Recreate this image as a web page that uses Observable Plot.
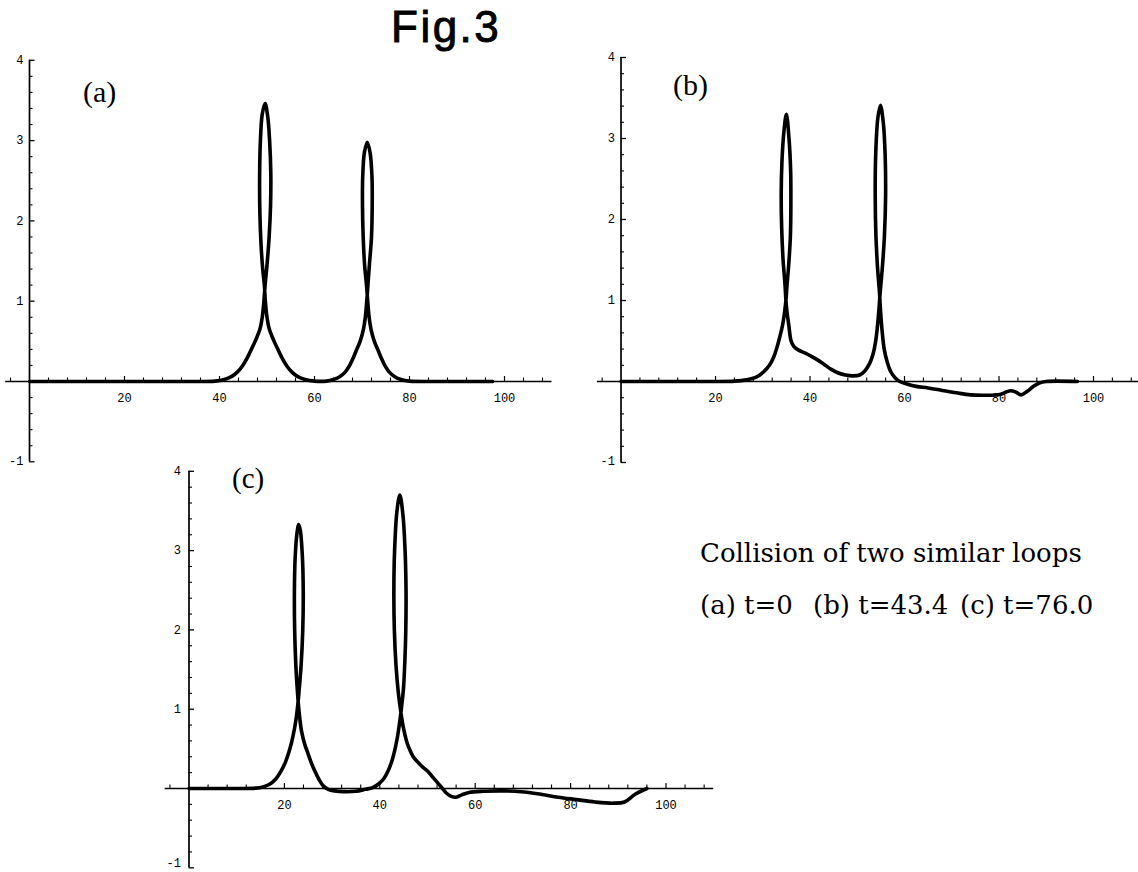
<!DOCTYPE html>
<html>
<head>
<meta charset="utf-8">
<script src="https://cdn.jsdelivr.net/npm/d3@7"></script>
<script src="https://cdn.jsdelivr.net/npm/@observablehq/plot@0.6"></script>
<style>
html, body { margin: 0; padding: 0; background: #fff; }
#page { position: relative; width: 1138px; height: 872px; overflow: hidden; background: #fff; }
#page > svg, #page > .panel { position: absolute; }
</style>
</head>
<body>
<div id="page"></div>
<script>
// ---------- text ----------
const titleText = "Fig.3";
const panelLabels = ["(a)", "(b)", "(c)"];
const captionLine1 = "Collision of two similar loops";
const captionLine2 = ["(a) t=0", "(b) t=43.4", "(c) t=76.0"];

// ---------- axes ----------
const xDomain = [-5, 110];
const yDomain = [-1, 4];
const xTickLabels = [20, 40, 60, 80, 100];
const yTickLabels = [-1, 1, 2, 3, 4];

// ---------- curve (a), t = 0 ----------
const aX = [0, 10, 20, 30, 36, 39, 41, 42.5, 43.8, 44.9, 45.9, 46.7, 47.5, 48.5, 49.0,
  49.35, 49.6, 50.0, 50.45, 50.75, 50.8, 50.55, 50.15, 49.6, 49.0, 48.65, 48.45, 48.5, 48.75, 49.1, 49.45,
  49.65, 50.0, 50.5, 51.5, 52.3, 53.1, 54.1, 55.2, 56.5, 58, 60, 62.5,
  64, 65.3, 66.5, 67.4, 68.2, 68.9, 69.6, 70.3, 70.7, 71.0, 71.25, 71.55, 72.0, 72.15, 72.1, 71.7, 71.1,
  70.5, 70.15, 70.1, 70.25, 70.55, 70.95, 71.2, 71.5, 71.9, 72.6, 73.3, 74.0, 74.8, 75.7, 76.9, 78.2, 80, 85, 97.5];
const aY = [0, 0, 0, 0, 0, 0.005, 0.025, 0.06, 0.12, 0.2, 0.3, 0.4, 0.5, 0.65, 0.8,
  1.0, 1.2, 1.45, 1.8, 2.2, 2.6, 3.0, 3.3, 3.46, 3.33, 3.05, 2.6, 2.1, 1.7, 1.4, 1.2,
  1.0, 0.8, 0.65, 0.5, 0.4, 0.3, 0.2, 0.12, 0.06, 0.025, 0.005, 0.005,
  0.025, 0.06, 0.12, 0.2, 0.3, 0.4, 0.5, 0.65, 0.8, 1.0, 1.2, 1.45, 1.8, 2.2, 2.55, 2.85, 2.98,
  2.85, 2.55, 2.2, 1.8, 1.45, 1.2, 1.0, 0.8, 0.65, 0.5, 0.4, 0.3, 0.2, 0.12, 0.06, 0.025, 0.005, 0, 0];

// ---------- curve (b), t = 43.4 ----------
const bX = [0, 10, 20, 24, 26.5, 28.5, 30.2, 31.4, 32.3, 33.0, 33.6, 34.2, 34.6, 34.9, 35.15, 35.5, 35.85,
  35.95, 35.9, 35.55, 35.0, 34.5, 34.05, 33.9, 34.0, 34.3, 34.7, 34.9, 35.15, 35.5, 36.0, 36.6, 37.5,
  39.0, 40.3, 41.5, 43.0, 44.5, 46.0, 47.5, 49.0, 50.5, 51.6, 52.6, 53.3, 53.9, 54.3, 54.6, 54.85, 55.3,
  55.75, 56.0, 55.9, 55.5, 54.9, 54.35, 53.9, 53.8, 53.95, 54.3, 54.7, 54.95, 55.3, 55.7, 56.3, 57.1,
  58.1, 59.0, 60.5, 62.5, 65, 68, 71, 74, 77.5, 80.2, 81.5, 82.5, 83.5, 84.7, 86.0, 87.3, 88.5, 90, 96.6];
const bY = [0, 0, 0, 0.005, 0.02, 0.05, 0.12, 0.2, 0.3, 0.42, 0.55, 0.7, 0.85, 1.0, 1.2, 1.45, 1.8,
  2.2, 2.6, 3.0, 3.3, 3.1, 2.7, 2.3, 1.9, 1.5, 1.2, 1.0, 0.85, 0.7, 0.5, 0.43, 0.39,
  0.35, 0.31, 0.27, 0.21, 0.15, 0.105, 0.08, 0.07, 0.08, 0.13, 0.22, 0.33, 0.5, 0.7, 0.9, 1.1, 1.4,
  1.8, 2.3, 2.8, 3.2, 3.41, 3.25, 2.8, 2.3, 1.8, 1.4, 1.1, 0.85, 0.6, 0.4, 0.25, 0.12,
  0.04, 0, -0.03, -0.06, -0.08, -0.11, -0.14, -0.165, -0.17, -0.16, -0.13, -0.115, -0.13, -0.165, -0.12, -0.06, -0.02, 0, 0];

// ---------- curve (c), t = 76.0 ----------
const cX = [0, 10, 14, 15.5, 16.8, 18.2, 19.3, 20.2, 20.9, 21.5, 22.1, 22.5, 22.8, 23.1, 23.5, 23.85,
  23.95, 23.75, 23.35, 23.0, 22.6, 22.25, 22.1, 22.15, 22.4, 22.7, 22.95, 23.2, 23.6, 24.3, 24.9, 25.6,
  26.3, 27.2, 28.2, 29.2, 30.5, 32.5, 35, 37, 38.5, 39.8, 40.9, 41.8, 42.6, 43.2, 43.7, 44.2, 44.6,
  44.95, 45.25, 45.45, 45.5, 45.3, 44.85, 44.2, 43.6, 43.1, 42.95, 43.05, 43.4, 43.9, 44.45, 44.9,
  45.6, 46.2, 47.0, 48.0, 49.0, 50.0, 51.0, 52.0, 53.0, 54.0, 55.0, 56.0, 57.2, 58.7, 61.8, 65.7,
  69.6, 73.5, 77.4, 81.2, 85.1, 89, 91.3, 93.6, 96];
const cY = [0, 0, 0.005, 0.02, 0.05, 0.12, 0.22, 0.33, 0.45, 0.58, 0.75, 0.9, 1.05, 1.25, 1.55, 2.0,
  2.5, 2.95, 3.25, 3.33, 3.2, 2.9, 2.5, 2.0, 1.55, 1.25, 1.05, 0.9, 0.72, 0.55, 0.45, 0.33,
  0.23, 0.12, 0.03, -0.01, -0.03, -0.04, -0.035, -0.01, 0.01, 0.06, 0.13, 0.23, 0.36, 0.5, 0.65, 0.85, 1.05,
  1.25, 1.6, 2.0, 2.5, 3.0, 3.45, 3.7, 3.5, 3.0, 2.5, 2.0, 1.55, 1.2, 0.95, 0.78,
  0.6, 0.5, 0.4, 0.33, 0.27, 0.22, 0.15, 0.08, 0.01, -0.06, -0.1, -0.11, -0.08, -0.05, -0.035, -0.03,
  -0.04, -0.07, -0.11, -0.14, -0.17, -0.185, -0.17, -0.07, 0];

// ---------- layout ----------
const panels = [
  {X: aX, Y: aY, left: 0,   top: 40,  width: 565, height: 440, xRange: [5.25, 551.5], yRange: [421.3, 19.8], labelDx: -6, negDy: -1},
  {X: bX, Y: bY, left: 570, top: 40,  width: 568, height: 440, xRange: [26.9, 570.25], yRange: [422, 17], labelDx: -6, negDy: -1},
  {X: cX, Y: cY, left: 150, top: 455, width: 580, height: 417, xRange: [14.65, 563.2], yRange: [412.3, 15.8], labelDx: -8, negDy: -5}
];

const page = document.getElementById("page");
const monoFont = "'Liberation Mono', 'DejaVu Sans Mono', monospace";

for (const p of panels) {
  const pts = p.X.map((x, i) => ({x, y: p.Y[i]}));
  const pxPerY = (p.yRange[0] - p.yRange[1]) / (yDomain[1] - yDomain[0]);
  const pxPerX = (p.xRange[1] - p.xRange[0]) / (xDomain[1] - xDomain[0]);
  const up = px => px / pxPerY;     // tick length (px) in y units
  const right = px => px / pxPerX;  // tick length (px) in x units
  const xMinor = d3.range(-4, 110, 4).filter(d => d !== 0 && !xTickLabels.includes(d));
  const yMinor = d3.range(-5, 21).map(d => d / 5).filter(d => !Number.isInteger(d));
  const yPos = yTickLabels.filter(d => d > 0);
  const yNeg = yTickLabels.filter(d => d < 0);

  const chart = Plot.plot({
    width: p.width,
    height: p.height,
    margin: 0,
    x: {domain: xDomain, range: p.xRange, axis: null},
    y: {domain: yDomain, range: p.yRange, axis: null},
    style: {background: "transparent", overflow: "visible"},
    marks: [
      Plot.ruleY([0], {x1: () => xDomain[0], x2: () => xDomain[1], stroke: "#000", strokeWidth: 1.7}),
      Plot.ruleX([0], {y1: () => yDomain[0], y2: () => yDomain[1], stroke: "#000", strokeWidth: 1.7}),
      Plot.ruleX(xMinor, {x: d => d, y1: () => 0, y2: () => up(3.5), stroke: "#000", strokeWidth: 1.1}),
      Plot.ruleX(xTickLabels, {x: d => d, y1: () => 0, y2: () => up(5), stroke: "#000", strokeWidth: 1.2}),
      Plot.ruleY(yMinor, {y: d => d, x1: () => 0, x2: () => right(3.5), stroke: "#000", strokeWidth: 1.1}),
      Plot.ruleY(yTickLabels, {y: d => d, x1: () => 0, x2: () => right(5.5), stroke: "#000", strokeWidth: 1.3}),
      Plot.text(xTickLabels, {x: d => d, y: () => 0, dy: 17, text: d => String(d),
        fontFamily: monoFont, fontSize: 12, fill: "#000"}),
      Plot.text(yPos, {x: () => 0, y: d => d, dx: p.labelDx, textAnchor: "end",
        text: d => String(d), fontFamily: monoFont, fontSize: 12, fill: "#000"}),
      Plot.text(yNeg, {x: () => 0, y: d => d, dx: p.labelDx, dy: p.negDy, textAnchor: "end",
        text: d => "-" + Math.abs(d), fontFamily: monoFont, fontSize: 12, fill: "#000"}),
      Plot.line(pts, {x: "x", y: "y", stroke: "#000", strokeWidth: 3.6, curve: "catmull-rom",
        strokeLinejoin: "round", strokeLinecap: "round"})
    ]
  });
  chart.classList.add("panel");
  chart.style.left = p.left + "px";
  chart.style.top = p.top + "px";
  page.appendChild(chart);
}

// ---------- title, panel labels, caption ----------
const ns = "http://www.w3.org/2000/svg";
const overlay = document.createElementNS(ns, "svg");
overlay.setAttribute("width", 1138);
overlay.setAttribute("height", 872);
overlay.style.left = "0px";
overlay.style.top = "0px";
overlay.style.pointerEvents = "none";
function addText(str, x, y, font, size, extra) {
  const t = document.createElementNS(ns, "text");
  t.setAttribute("x", x);
  t.setAttribute("y", y);
  t.setAttribute("font-family", font);
  t.setAttribute("font-size", size);
  t.setAttribute("fill", "#000");
  if (extra) for (const k in extra) t.setAttribute(k, extra[k]);
  t.textContent = str;
  overlay.appendChild(t);
}
addText(titleText, 391, 42, "'Liberation Sans', Arial, sans-serif", 44,
  {"letter-spacing": "2.5", "stroke": "#000", "stroke-width": "0.9"});
const serif = "'Liberation Serif', 'Times New Roman', serif";
const labelPos = [[83, 101.5, 30], [673, 95, 30], [232, 488, 29]];
panelLabels.forEach((s, i) => addText(s, labelPos[i][0], labelPos[i][1], serif, labelPos[i][2]));
const capFont = "'DejaVu Serif', serif";
addText(captionLine1, 700, 562, capFont, 26);
const cap2x = [700, 813, 960];
captionLine2.forEach((s, i) => addText(s, cap2x[i], 614, capFont, 26));
page.appendChild(overlay);
</script>
</body>
</html>
